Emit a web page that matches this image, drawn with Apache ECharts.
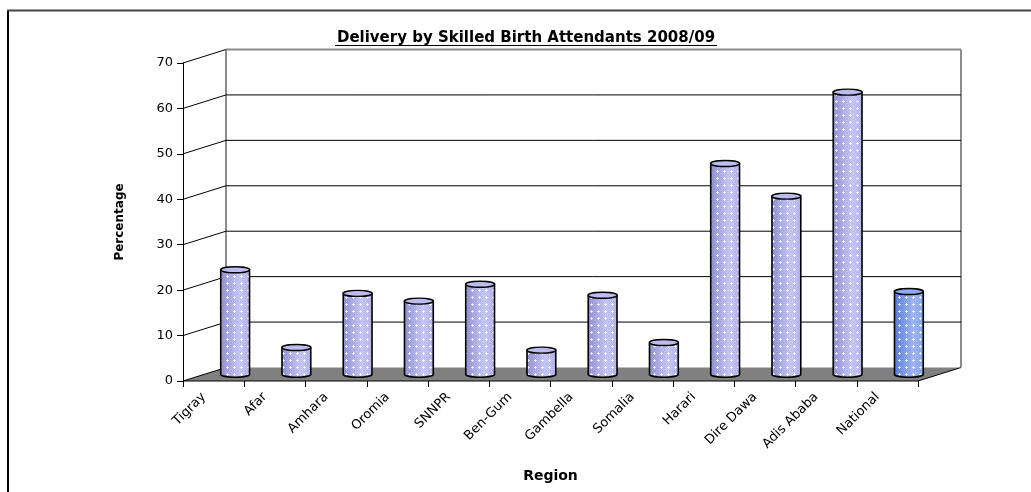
<!DOCTYPE html>
<html>
<head>
<meta charset="utf-8">
<script src="https://cdn.jsdelivr.net/npm/echarts@6/dist/echarts.min.js"></script>
<style>
  html, body { margin: 0; padding: 0; background: #fff; }
  #chart { width: 1031px; height: 492px; }
</style>
</head>
<body>
<div id="chart"></div>
<script>
// data
var categories = ['Tigray', 'Afar', 'Amhara', 'Oromia', 'SNNPR', 'Ben-Gum', 'Gambella',
                  'Somalia', 'Harari', 'Dire Dawa', 'Adis Ababa', 'National'];
var values = [23.0, 5.9, 17.8, 16.1, 19.8, 5.3, 17.4, 7.0, 46.4, 39.2, 62.1, 18.2];
var yTicks = [0, 10, 20, 30, 40, 50, 60, 70];

// fake 3d depth (px)
var DX = 43, DY = -13.5;
var FONT = '"DejaVu Sans", sans-serif';

// dotted texture laid over the cylinders
function makePattern() {
    var c = document.createElement('canvas');
    c.width = 7; c.height = 7;
    var g = c.getContext('2d');
    g.fillStyle = 'rgba(60,60,120,0.10)';
    for (var i = 0; i < 7; i++) {
        for (var j = 0; j < 7; j++) {
            if ((i + j) % 2 === 0) g.fillRect(i, j, 1, 1);
        }
    }
    g.fillStyle = 'rgba(255,255,255,0.7)';
    g.fillRect(3, 2, 1, 3);
    g.fillRect(2, 3, 3, 1);
    return c;
}
var pattern = makePattern();

function bodyFill(last) {
    var stops = last
        ? ['#5a7fdc', '#7d9cec', '#a4bcf8', '#8eaaf0']
        : ['#9494d6', '#b0b0e8', '#cdcdfc', '#b9b9ee'];
    return new echarts.graphic.LinearGradient(0, 0, 1, 0, [
        { offset: 0, color: stops[0] },
        { offset: 0.3, color: stops[1] },
        { offset: 0.65, color: stops[2] },
        { offset: 1, color: stops[3] }
    ]);
}

function renderWall(params, api) {
    var cs = params.coordSys;
    var v = api.value(1);
    var y = api.coord([0, v])[1];
    var x0 = cs.x, x1 = cs.x + cs.width;
    var kids = [];
    if (v === 0) {
        kids.push({
            type: 'polygon',
            shape: { points: [[x0, y], [x1, y], [x1 + DX, y + DY], [x0 + DX, y + DY]] },
            style: { fill: '#808080' }
        });
        kids.push({ type: 'line', shape: { x1: x0, y1: y, x2: x1, y2: y }, style: { stroke: '#000', lineWidth: 1 } });
        kids.push({ type: 'line', shape: { x1: x1, y1: y, x2: x1 + DX, y2: y + DY }, style: { stroke: '#000', lineWidth: 1 } });
        kids.push({ type: 'line', shape: { x1: x0 + DX, y1: y + DY, x2: x0 + DX, y2: cs.y + DY }, style: { stroke: '#8c8c8c', lineWidth: 2 } });
        kids.push({ type: 'line', shape: { x1: x1 + DX, y1: y + DY, x2: x1 + DX, y2: cs.y + DY }, style: { stroke: '#8c8c8c', lineWidth: 2 } });
    } else {
        var top = v === yTicks[yTicks.length - 1];
        kids.push({
            type: 'line',
            shape: { x1: x0 + DX, y1: y + DY, x2: x1 + DX, y2: y + DY },
            style: { stroke: top ? '#8c8c8c' : '#000', lineWidth: top ? 2 : 1 }
        });
    }
    kids.push({ type: 'line', shape: { x1: x0, y1: y, x2: x0 + DX, y2: y + DY }, style: { stroke: '#000', lineWidth: 1 } });
    return { type: 'group', children: kids };
}

function renderBar(params, api) {
    var i = api.value(0);
    var top = api.coord([i, api.value(1)]);
    var base = api.coord([i, 0]);
    var w = api.size([1, 0])[0] * 0.47;
    var cx = top[0] + DX / 2;
    var ty = top[1] + DY / 2;
    var by = base[1] + DY / 2;
    var l = cx - w / 2, r = cx + w / 2, ry = 3;
    var last = i === categories.length - 1;
    var d = 'M' + l + ',' + ty + ' L' + l + ',' + by +
            ' A' + (w / 2) + ',' + ry + ' 0 0 0 ' + r + ',' + by +
            ' L' + r + ',' + ty + ' Z';
    return {
        type: 'group',
        children: [
            { type: 'path', shape: { pathData: d }, style: { fill: bodyFill(last), stroke: null } },
            { type: 'path', shape: { pathData: d }, style: { fill: { image: pattern, repeat: 'repeat' }, stroke: '#000', lineWidth: 1.6 } },
            {
                type: 'ellipse',
                shape: { cx: cx, cy: ty, rx: w / 2, ry: ry },
                style: { fill: last ? '#8eaaf0' : '#bcbcee', stroke: '#000', lineWidth: 1.4 }
            }
        ]
    };
}

var chart = echarts.init(document.getElementById('chart'));
chart.setOption({
    animation: false,
    backgroundColor: '#fff',
    title: {
        text: 'Delivery by Skilled Birth Attendants 2008/09',
        left: 521,
        top: 26,
        textAlign: 'center',
        textStyle: { fontFamily: FONT, fontSize: 15, fontWeight: 'bold', color: '#000' }
    },
    graphic: [
        { type: 'line', shape: { x1: 335, y1: 45.5, x2: 717, y2: 45.5 }, style: { stroke: '#000', lineWidth: 1 } },
        { type: 'line', shape: { x1: 8, y1: 10, x2: 8, y2: 492 }, style: { stroke: '#000', lineWidth: 2 } },
        { type: 'line', shape: { x1: 7, y1: 10.5, x2: 1031, y2: 10.5 }, style: { stroke: '#444', lineWidth: 2 } }
    ],
    grid: { left: 183, top: 63, width: 735, height: 318, outerBoundsMode: 'none', containLabel: false },
    xAxis: {
        type: 'category',
        data: categories,
        boundaryGap: true,
        name: 'Region',
        nameLocation: 'middle',
        nameGap: 88,
        nameTextStyle: { fontFamily: FONT, fontSize: 14, fontWeight: 'bold', color: '#000' },
        axisLine: { show: false },
        axisTick: { show: true, length: 6, lineStyle: { color: '#000' } },
        axisLabel: {
            rotate: 45, interval: 0, margin: 4,
            padding: [0, 14, 0, 0],
            fontFamily: FONT, fontSize: 13, color: '#000'
        },
        splitLine: { show: false }
    },
    yAxis: {
        type: 'value',
        min: 0, max: 70, interval: 10,
        name: 'Percentage',
        nameLocation: 'middle',
        nameRotate: 90,
        nameGap: 57,
        nameTextStyle: { fontFamily: FONT, fontSize: 12, fontWeight: 'bold', color: '#000' },
        axisLine: { show: true, lineStyle: { color: '#000', width: 1 } },
        axisTick: { show: true, length: 6, lineStyle: { color: '#000' } },
        axisLabel: { margin: 10, fontFamily: FONT, fontSize: 13, color: '#000' },
        splitLine: { show: false }
    },
    series: [
        {
            type: 'custom',
            z: 1,
            silent: true,
            renderItem: renderWall,
            encode: { x: 0, y: 1 },
            data: yTicks.map(function (t) { return [0, t]; })
        },
        {
            type: 'custom',
            z: 3,
            renderItem: renderBar,
            encode: { x: 0, y: 1 },
            data: values.map(function (v, i) { return [i, v]; })
        }
    ]
});
</script>
</body>
</html>
